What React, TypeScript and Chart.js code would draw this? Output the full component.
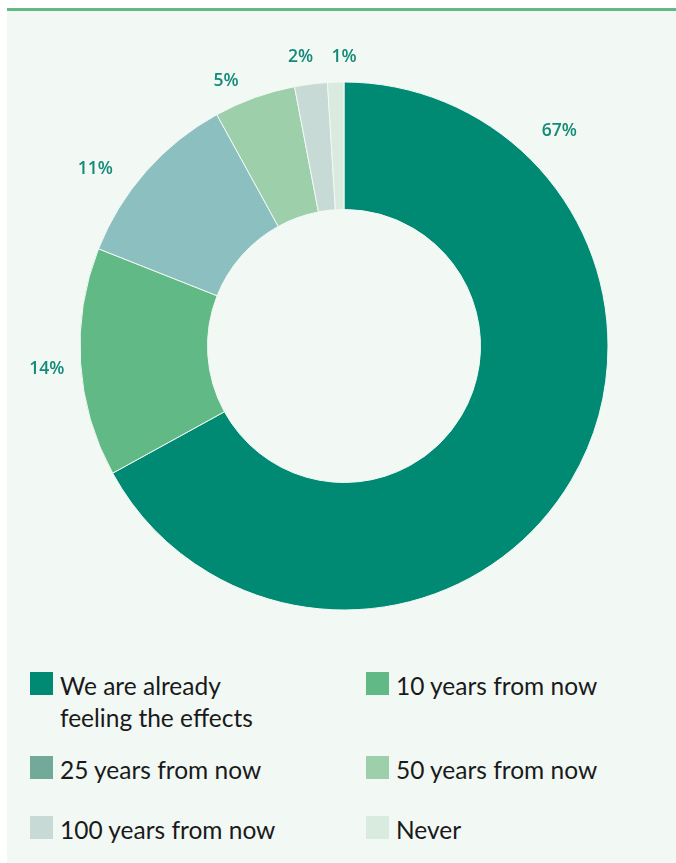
import React, { useEffect, useRef } from "react";
import { Chart, registerables } from "chart.js";

Chart.register(...registerables);

const categories = [
  "We are already feeling the effects",
  "10 years from now",
  "25 years from now",
  "50 years from now",
  "100 years from now",
  "Never",
];
const values = [67, 14, 11, 5, 2, 1];
const sliceColors = ["#008a74", "#61b985", "#8bbfc0", "#9dcfaa", "#c8dad5", "#d9ebdf"];
const legendColors = ["#008a74", "#61b985", "#72a999", "#9dcfaa", "#c8dad5", "#d9ebdf"];
// legend display order (two columns)
const legendOrder = [0, 1, 2, 3, 4, 5];

// label placement: fraction of slice angle, radial offset beyond outer edge
const labelPlacement = [
  { frac: 0.187, off: 40 },
  { frac: 0.484, off: 34 },
  { frac: 0.348, off: 41 },
  { frac: 0.267, off: 26 },
  { frac: 0.31, off: 28 },
  { frac: 1.0, off: 24.5 },
];

const labelPlugin = {
  id: "pctLabels",
  afterDatasetsDraw(chart: any) {
    const ctx = chart.ctx;
    const meta = chart.getDatasetMeta(0);
    ctx.save();
    ctx.font = "600 17.5px 'Open Sans'";
    ctx.fillStyle = "#148a77";
    ctx.textAlign = "center";
    ctx.textBaseline = "middle";
    meta.data.forEach((arc: any, i: number) => {
      const { x, y, startAngle, endAngle, outerRadius } = arc.getProps(
        ["x", "y", "startAngle", "endAngle", "outerRadius"],
        true
      );
      const p = labelPlacement[i] || { frac: 0.5, off: 30 };
      const a = startAngle + (endAngle - startAngle) * p.frac;
      const r = outerRadius + p.off;
      ctx.fillText(values[i] + "%", x + Math.cos(a) * r, y + Math.sin(a) * r);
    });
    ctx.restore();
  },
};

export default function App() {
  const ref = useRef<HTMLCanvasElement>(null);
  useEffect(() => {
    if (!ref.current) return;
    const chart = new Chart(ref.current, {
      type: "doughnut",
      data: {
        labels: categories,
        datasets: [
          {
            data: values,
            backgroundColor: sliceColors,
            borderColor: "#f2f8f4",
            borderWidth: 1,
          },
        ],
      },
      options: {
        responsive: false,
        animation: false,
        devicePixelRatio: 1,
        cutout: "51.7%",
        layout: { padding: { left: 79.5, right: 67.5, top: 81.5, bottom: 29.5 } },
        plugins: { legend: { display: false }, tooltip: { enabled: false } },
      },
      plugins: [labelPlugin],
    });
    return () => chart.destroy();
  }, []);

  return (
    <div style={{ position: "absolute", left: 0, top: 0, width: 676, height: 863, overflow: "hidden", background: "#fff" }}>
      <div style={{ position: "absolute", left: 7, top: 8, width: 669, height: 3, background: "#62b986" }} />
      <div style={{ position: "absolute", left: 7, top: 11, right: 0, bottom: 0, background: "#f2f8f4" }} />
      <canvas
        ref={ref}
        width={676}
        height={640}
        style={{ position: "absolute", left: 0, top: 0, width: 676, height: 640 }}
      />
      <div
        style={{
          position: "absolute",
          left: 30,
          top: 670,
          display: "grid",
          gridTemplateColumns: "336px 300px",
          gridTemplateRows: "84px 60px 60px",
          fontFamily: "Lato",
          fontSize: 24.5,
          lineHeight: "32px",
          color: "#1a1a1a",
        }}
      >
        {legendOrder.map((i) => (
          <div key={i} style={{ display: "flex", alignItems: "flex-start" }}>
            <div style={{ width: 23, height: 23, marginTop: 2, marginRight: 7, flex: "none", background: legendColors[i] }} />
            <div style={{ width: 210, whiteSpace: i === 0 ? "normal" : "nowrap" }}>{categories[i]}</div>
          </div>
        ))}
      </div>
    </div>
  );
}
